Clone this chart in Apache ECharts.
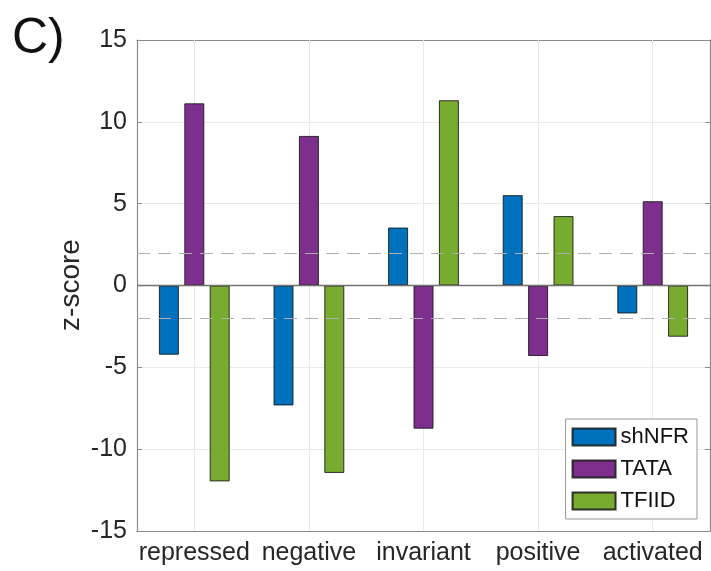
<!DOCTYPE html>
<html><head><meta charset="utf-8">
<script src="https://cdn.jsdelivr.net/npm/echarts@6/dist/echarts.min.js"></script>
<style>html,body{margin:0;padding:0;background:#fff}#c{width:711px;height:571px}</style>
</head><body><div id="c"></div>
<script>
const categories = ['repressed','negative','invariant','positive','activated'];
const shNFR = [-4.23, -7.33, 3.54, 5.52, -1.71];
const TATA  = [11.13, 9.14, -8.75, -4.31, 5.15];
const TFIID = [-11.97, -11.45, 11.32, 4.24, -3.13];
const yTicks = {min: -15, max: 15, interval: 5};
const thresholds = [2, -2];
const yName = 'z-score';

const FONT = '"Liberation Sans", Arial, Helvetica, sans-serif';
const axisGray = '#8a8a8a';
const chart = echarts.init(document.getElementById('c'));
const barCommon = {
  type: 'bar', barWidth: 20, barGap: '27%', z: 3,
  itemStyle: {borderColor: 'rgba(20,20,20,0.85)', borderWidth: 1}
};
chart.setOption({
  animation: false,
  textStyle: {fontFamily: FONT},
  graphic: [{
    type: 'text', left: 12, top: 14,
    style: {text: 'C)', font: '50px ' + FONT, fill: '#111'}
  }, {
    type: 'text', x: 71, y: 285, rotation: Math.PI / 2,
    style: {text: yName, font: '28px ' + FONT, fill: '#262626', align: 'center', verticalAlign: 'middle'}
  }],
  grid: {left: 137, right: 1, top: 40, bottom: 40},
  legend: {
    data: ['shNFR','TATA','TFIID'], orient: 'vertical', right: 14, bottom: 52,
    itemWidth: 43, itemHeight: 17, itemGap: 10, padding: [7, 8, 7, 6],
    backgroundColor: '#fff', borderColor: '#999', borderWidth: 1,
    textStyle: {fontSize: 22, color: '#111', fontFamily: FONT},
    icon: 'rect'
  },
  xAxis: [{
    type: 'category', data: categories, position: 'bottom',
    axisLine: {onZero: false, lineStyle: {color: axisGray, width: 1.2}},
    axisTick: {inside: true, alignWithLabel: true, length: 5, lineStyle: {color: axisGray}},
    axisLabel: {fontSize: 25, color: '#262626', margin: 10, fontFamily: FONT, interval: 0, hideOverlap: false},
    splitLine: {show: false}
  }, {
    type: 'category', data: categories, position: 'top',
    axisLine: {onZero: false, lineStyle: {color: axisGray, width: 1.2}},
    axisTick: {inside: true, alignWithLabel: true, length: 5, lineStyle: {color: axisGray}},
    axisLabel: {show: false}, splitLine: {show: false}
  }],
  yAxis: [{
    type: 'value', min: yTicks.min, max: yTicks.max, interval: yTicks.interval,
    axisLine: {show: true, lineStyle: {color: axisGray, width: 1.2}},
    axisTick: {show: true, inside: true, length: 5, lineStyle: {color: axisGray}},
    axisLabel: {fontSize: 25, color: '#262626', margin: 10, fontFamily: FONT},
    splitLine: {show: true, lineStyle: {color: '#e9e9e9', width: 1}}
  }, {
    type: 'value', min: yTicks.min, max: yTicks.max, interval: yTicks.interval, position: 'right',
    axisLine: {show: true, lineStyle: {color: axisGray, width: 1.2}},
    axisTick: {show: true, inside: true, length: 5, lineStyle: {color: axisGray}},
    axisLabel: {show: false}, splitLine: {show: false}
  }],
  series: [
    {
      type: 'line', name: 'grid', data: [], z: 1, silent: true,
      markLine: {
        z: 1, silent: true, symbol: 'none', label: {show: false},
        lineStyle: {color: '#e9e9e9', type: 'solid', width: 1},
        data: categories.map(c => ({xAxis: c}))
      }
    },
    Object.assign({}, barCommon, {name: 'shNFR', data: shNFR, color: '#0072BD'}),
    Object.assign({}, barCommon, {name: 'TATA', data: TATA, color: '#7E2F8E'}),
    Object.assign({}, barCommon, {name: 'TFIID', data: TFIID, color: '#77AC30'}),
    {
      type: 'line', name: 'ref', data: [], z: 5, silent: true,
      markLine: {
        z: 5, silent: true, symbol: 'none', label: {show: false},
        data: thresholds.map(v => ({yAxis: v, lineStyle: {color: '#b0b0b0', type: [13, 8], width: 1.2}}))
          .concat([{yAxis: 0, lineStyle: {color: '#707070', type: 'solid', width: 1.3}}])
      }
    }
  ]
});
</script></body></html>
